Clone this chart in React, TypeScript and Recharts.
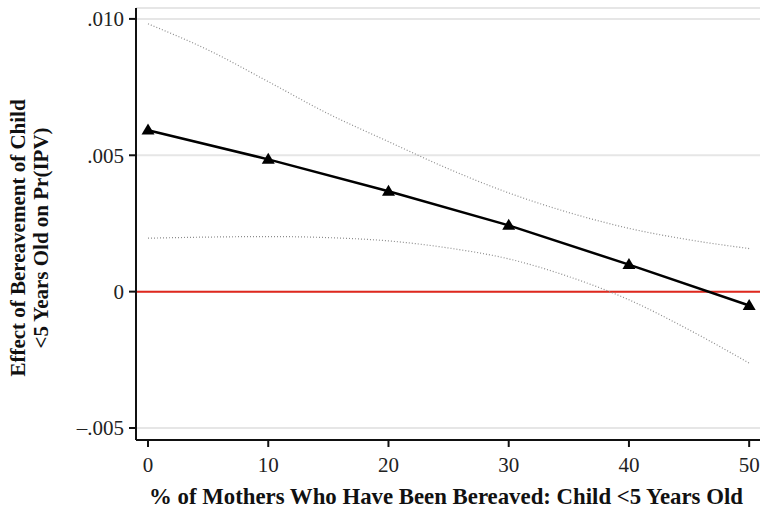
import React from "react";
import { LineChart, Line, XAxis, YAxis, CartesianGrid, ReferenceLine } from "recharts";

const pctBereaved = [0, 10, 20, 30, 40, 50];
const effect = [0.00592, 0.00485, 0.00368, 0.00243, 0.00099, -0.00051];

const ciX = [0, 5, 10, 15, 20, 25, 30, 35, 40, 45, 50];
const ciUpper = [0.00982, 0.00886, 0.0077, 0.00652, 0.0055, 0.0045, 0.00362, 0.0029, 0.00232, 0.0019, 0.00158];
const ciLower = [0.00196, 0.002, 0.00202, 0.00198, 0.00186, 0.0016, 0.0012, 0.00055, -0.0003, -0.0014, -0.00262];

const yTicks = [-0.005, 0, 0.005, 0.01];
const yTickLabels: Record<string, string> = { "-0.005": "\u2013.005", "0": "0", "0.005": ".005", "0.01": ".010" };
const xTicks = [0, 10, 20, 30, 40, 50];

const effectData = pctBereaved.map((x, i) => ({ x, effect: effect[i] }));
const ciData = ciX.map((x, i) => ({ x, upper: ciUpper[i], lower: ciLower[i] }));

const FONT = "'Liberation Serif', 'DejaVu Serif', serif";

const Triangle = (props: any) => {
  const { cx, cy } = props;
  if (cx == null || cy == null) return null;
  const w = 6.5;
  const h = 11;
  return (
    <path
      d={`M${cx},${cy - h * 0.6} L${cx + w},${cy + h * 0.4} L${cx - w},${cy + h * 0.4} Z`}
      fill="#000"
      stroke="none"
    />
  );
};

const YTitle = (props: any) => {
  const vb = props.viewBox || {};
  const cy = vb.y + vb.height / 2 + 14;
  const cx = 29;
  return (
    <text
      transform={`rotate(-90, ${cx}, ${cy})`}
      x={cx}
      y={cy}
      textAnchor="middle"
      fontFamily={FONT}
      fontWeight="bold"
      fontSize={21}
      fill="#111"
    >
      <tspan x={cx} dy={-4}>Effect of Bereavement of Child</tspan>
      <tspan x={cx} dy={23}>&lt;5 Years Old on Pr(IPV)</tspan>
    </text>
  );
};

const XTitle = (props: any) => {
  const vb = props.viewBox || {};
  return (
    <text
      x={vb.x + vb.width / 2 - 2}
      y={504}
      textAnchor="middle"
      fontFamily={FONT}
      fontWeight="bold"
      fontSize={22.8}
      fill="#111"
    >
      % of Mothers Who Have Been Bereaved: Child &lt;5 Years Old
    </text>
  );
};

export default function App() {
  return (
    <div style={{ position: "absolute", left: 0, top: 0, background: "#fff" }}>
      <LineChart
        width={761}
        height={511}
        margin={{ top: 8, right: 1, bottom: 0, left: 0 }}
      >
        <CartesianGrid vertical={false} stroke="#e6e6e6" strokeWidth={2} />
        <XAxis
          type="number"
          dataKey="x"
          domain={[-1, 50.9]}
          ticks={xTicks}
          allowDuplicatedCategory={false}
          height={71}
          stroke="#111"
          strokeWidth={2}
          tickSize={7}
          tick={{ fontFamily: FONT, fontSize: 21, fill: "#222", dy: 8 }}
          label={<XTitle />}
        />
        <YAxis
          type="number"
          domain={[-0.00544, 0.0104]}
          ticks={yTicks}
          width={136}
          stroke="#111"
          strokeWidth={2}
          tickSize={7}
          tickFormatter={(v: number) => yTickLabels[String(v)] ?? String(v)}
          tick={{ fontFamily: FONT, fontSize: 21, fill: "#222", dx: -3 }}
          label={<YTitle />}
        />
        <ReferenceLine y={0} stroke="#e0281e" strokeWidth={2} />
        <Line
          data={ciData}
          dataKey="upper"
          type="monotone"
          stroke="#8c8c8c"
          strokeWidth={1.2}
          strokeDasharray="1 2"
          dot={false}
          isAnimationActive={false}
        />
        <Line
          data={ciData}
          dataKey="lower"
          type="monotone"
          stroke="#8c8c8c"
          strokeWidth={1.2}
          strokeDasharray="1 2"
          dot={false}
          isAnimationActive={false}
        />
        <Line
          data={effectData}
          dataKey="effect"
          type="linear"
          stroke="#000"
          strokeWidth={2.5}
          dot={<Triangle />}
          isAnimationActive={false}
        />
      </LineChart>
    </div>
  );
}
